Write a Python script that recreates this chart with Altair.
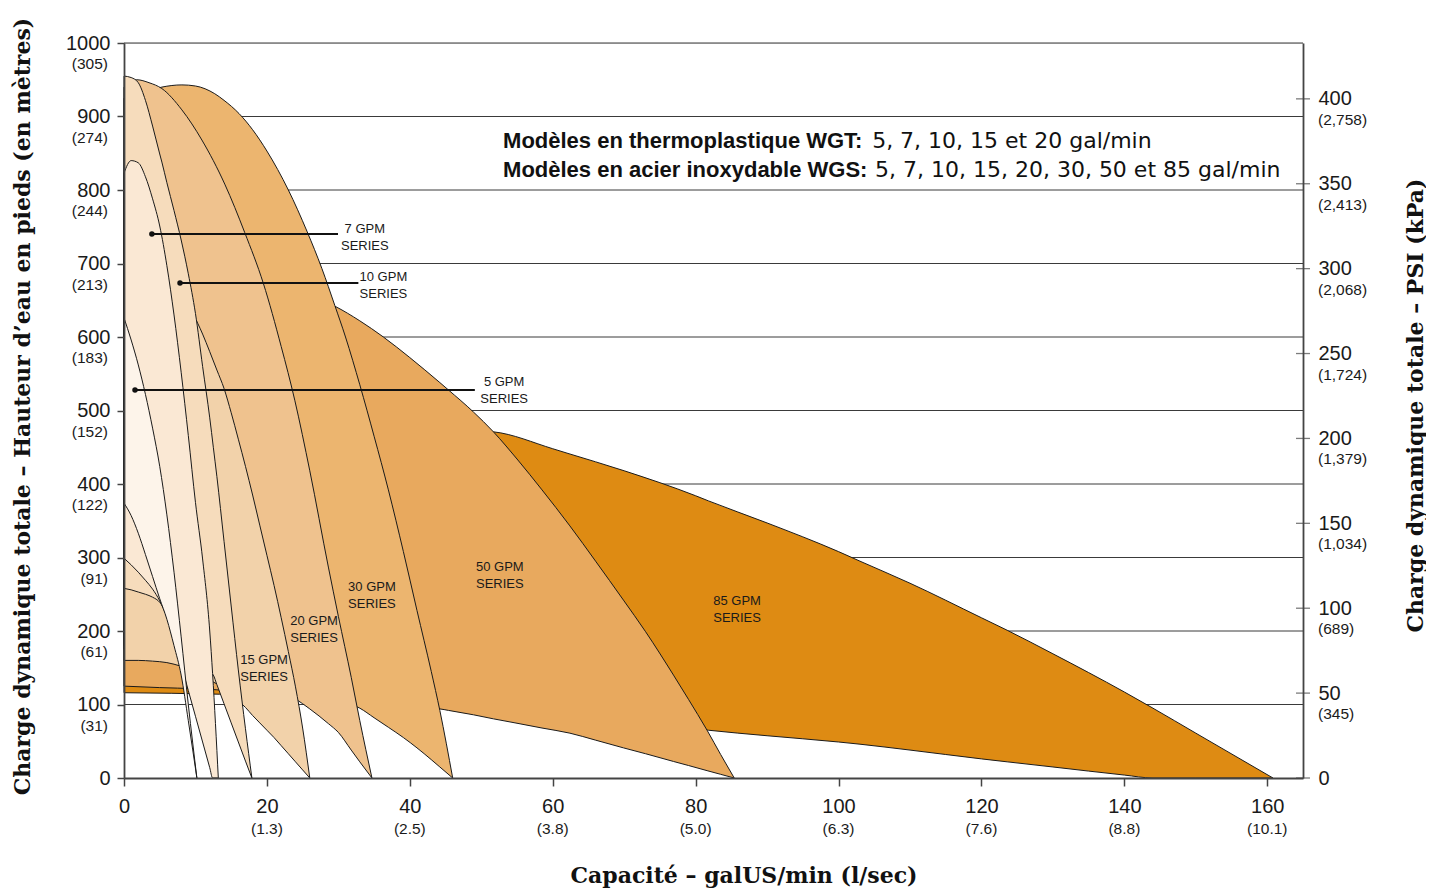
import altair as alt
import pandas as pd

X_MAX = 165
FT_MAX = 1000
PSI_MAX = 1000 / 2.31

# ---------------- series (flow gpm, upper head ft, lower head ft) ----------------
s85_x = [0, 13.4, 20, 30, 40, 44, 51.7, 60, 62, 70, 80, 81.8, 90, 100, 103, 110, 120, 123.6, 130, 140, 144, 150, 160.8]
s85_hi = [480, 479, 478, 477, 476, 475, 471, 448, 442, 418, 384, 377, 347, 308, 295, 265, 218, 201, 169, 117, 95, 61, 0]
s85_lo = [116, 114, 112, 106, 100, 98, 91.5, 85, 83, 75.5, 67, 65, 57.5, 49, 46, 38, 26, 22, 15, 4, 0, 0, 0]

s50_x = [0, 5, 10, 13, 15, 20, 25, 29.5, 33, 36.3, 40, 44.2, 45.4, 48.9, 51.7, 55, 58.5, 62.4, 66, 69.9, 73, 76.9, 79, 81.6, 83.5, 85.4]
s50_hi = [800, 775, 745, 725, 712, 685, 660, 642, 622, 600, 572, 538, 528, 498, 471, 434, 392, 343, 295, 242, 199, 140, 107, 65, 32, 0]
s50_lo = [125, 123, 121.5, 120, 118, 113, 108, 104, 101.5, 99, 96.5, 94, 92, 86, 80.5, 74.5, 68, 61, 51.5, 41, 33, 22.5, 17, 10, 5, 0]

s30_x = [0, 3, 5.3, 8.1, 10, 12.7, 14, 16.1, 18, 20, 23, 25.6, 27.7, 29.5, 31, 33, 35, 37, 39.1, 41, 43, 44.2, 46]
s30_hi = [925, 934, 940, 943, 941.5, 931, 922, 904, 882, 853, 800, 744, 693, 643, 600, 535, 465, 392, 308, 228, 145, 92, 0]
s30_lo = [180, 177, 175, 172, 170, 163, 160, 154, 148, 140, 131, 124, 117, 110, 103, 95, 82, 69, 55, 41, 25, 15, 0]

s20_x = [0, 1.8, 3.5, 5.3, 8.1, 10.9, 14.1, 16.9, 19.5, 22, 23.9, 26, 28.6, 30, 31.8, 33, 34.7]
s20_hi = [940, 950, 946, 938, 909, 868, 808, 742, 673, 587, 514, 418, 287, 220, 137, 78, 0]
s20_lo = [175, 172, 170, 167, 163, 157, 148, 140, 128, 117, 108, 94, 74, 62, 38, 22, 0]

s15_x = [0, 2, 4, 6, 8, 9.7, 11, 12, 13, 14, 15, 16, 17, 18, 19, 20, 21, 22, 23, 24, 25, 26]
s15_hi = [790, 770, 745, 715, 675, 632, 604, 580, 555, 530, 497, 461, 424, 385, 344, 303, 262, 218, 172, 124, 68, 0]
s15_lo = [160, 160, 159, 157, 152, 146, 139, 133, 128, 121, 113, 105, 96, 85, 75, 65, 55, 44, 33, 22, 11, 0]

s10_x = [0, 1, 2, 3, 4, 5, 5.3, 6, 7, 8, 9, 10, 11, 12, 12.5, 13, 14, 15, 16, 17, 17.9]
s10_hi = [955, 953, 946, 922, 887, 849, 838, 810, 772, 732, 686, 632, 560, 490, 450, 410, 322, 234, 147, 67, 0]
s10_lo = [258, 256, 253, 250, 246, 239, 235, 221, 200, 185, 170, 161, 153, 144, 140, 127, 101, 75, 49, 23, 0]

s7_x = [0, 1, 2, 3, 4, 5, 6, 7, 8, 9, 10, 11, 12, 12.4, 13.2]
s7_hi = [823, 840, 837, 818, 788, 751, 697, 630, 552, 466, 375, 298, 200, 142, 0]
s7_lo = [299, 290, 280, 269, 257, 241, 219, 193, 155, 119, 84, 49, 14, 0, 0]

s5_x = [0, 1, 2, 3, 4, 5, 6, 7, 8, 9, 10.2]
s5_hi = [626, 596, 562, 522, 476, 424, 358, 280, 192, 100, 0]
s5_lo = [374, 357, 333, 304, 274, 244, 216, 180, 140, 78, 0]

series = [
    ("85 GPM", "#DE8B13", s85_x, s85_hi, s85_lo),
    ("50 GPM", "#E8A95E", s50_x, s50_hi, s50_lo),
    ("30 GPM", "#ECB56F", s30_x, s30_hi, s30_lo),
    ("20 GPM", "#EFC28E", s20_x, s20_hi, s20_lo),
    ("15 GPM", "#F2D2AA", s15_x, s15_hi, s15_lo),
    ("10 GPM", "#F6DCBC", s10_x, s10_hi, s10_lo),
    ("7 GPM", "#FAE8D4", s7_x, s7_hi, s7_lo),
    ("5 GPM", "#FDF4EA", s5_x, s5_hi, s5_lo),
]

# ---------------- series labels ----------------
lab_top = ["7 GPM", "10 GPM", "5 GPM", "15 GPM", "20 GPM", "30 GPM", "50 GPM", "85 GPM"]
lab_x = [33.7, 36.3, 53.2, 19.6, 26.6, 34.7, 52.6, 85.8]
lab_y = [747, 681.6, 538.8, 160.5, 213.6, 259.9, 287, 240.8]
lab_gap = 23

# pointer lines for the small series
ptr_x0 = [3.9, 7.84, 1.54]
ptr_x1 = [29.95, 32.8, 49.1]
ptr_y = [740, 673.5, 528]

# header
hdr_bold = ["Modèles en thermoplastique WGT:", "Modèles en acier inoxydable WGS:"]
hdr_reg = ["5, 7, 10, 15 et 20 gal/min", "5, 7, 10, 15, 20, 30, 50 et 85 gal/min"]
hdr_x_bold = [53.05, 53.05]
hdr_x_reg = [104.7, 105.1]
hdr_y = [857, 818]

# axes
x_ticks = [0, 20, 40, 60, 80, 100, 120, 140, 160]
x_sub = ["(1.3)", "(2.5)", "(3.8)", "(5.0)", "(6.3)", "(7.6)", "(8.8)", "(10.1)"]
ft_ticks = [0, 100, 200, 300, 400, 500, 600, 700, 800, 900, 1000]
ft_sub = ["(31)", "(61)", "(91)", "(122)", "(152)", "(183)", "(213)", "(244)", "(274)", "(305)"]
psi_ticks = [0, 50, 100, 150, 200, 250, 300, 350, 400]
psi_sub = ["(345)", "(689)", "(1,034)", "(1,379)", "(1,724)", "(2,068)", "(2,413)", "(2,758)"]

TXT = "#1a1a1a"
AX = "#444444"
LABEL_FONT = "Liberation Sans"
TITLE_FONT = "DejaVu Serif"

xscale = alt.Scale(domain=[0, X_MAX], nice=False, zero=True)
ftscale = alt.Scale(domain=[0, FT_MAX], nice=False, zero=True)
psiscale = alt.Scale(domain=[0, PSI_MAX], nice=False, zero=True)

x_axis = alt.Axis(
    values=x_ticks, title="Capacité – galUS/min (l/sec)", format="d",
    titleFont=TITLE_FONT, titleFontWeight="bold", titleFontSize=22, titleColor="#111111",
    titleX=619.5, titleY=104, titleAlign="center", titleBaseline="alphabetic",
    labelFont=LABEL_FONT, labelFontSize=20, labelColor=TXT, labelBaseline="middle",
    labelPadding=20, labelFlush=False, labelOverlap=False,
    tickSize=8, tickColor=AX, tickWidth=1.5, domainColor=AX, domainWidth=1.8,
    grid=False, zindex=1,
)
y_axis = alt.Axis(
    values=ft_ticks, title="Charge dynamique totale – Hauteur d’eau en pieds (en mètres)", format="d",
    titleFont=TITLE_FONT, titleFontWeight="bold", titleFontSize=22, titleColor="#111111",
    titleAngle=270, titleX=-102, titleY=363, titleAlign="center", titleBaseline="middle",
    labelFont=LABEL_FONT, labelFontSize=20, labelColor=TXT, labelPadding=7,
    labelFlush=False, labelOverlap=False,
    tickSize=7, tickColor=AX, tickWidth=1.5, domainColor=AX, domainWidth=1.8,
    grid=False, zindex=1,
)
psi_axis = alt.Axis(
    values=psi_ticks, orient="right", title="Charge dynamique totale – PSI (kPa)", format="d",
    titleFont=TITLE_FONT, titleFontWeight="bold", titleFontSize=22, titleColor="#111111",
    titleAngle=270, titleX=112, titleY=362, titleAlign="center", titleBaseline="middle",
    labelFont=LABEL_FONT, labelFontSize=20, labelColor=TXT, labelPadding=15,
    labelFlush=False, labelOverlap=False, labelAlign="left",
    ticks=False, domainColor=AX, domainWidth=1.8, grid=False, zindex=1,
)


def X(field):
    return alt.X(field, type="quantitative", scale=xscale, axis=x_axis)


def Y(field):
    return alt.Y(field, type="quantitative", scale=ftscale, axis=y_axis)


def P(field):
    return alt.Y(field, type="quantitative", scale=psiscale, axis=psi_axis)


layers = []

# gridlines (behind the regions)
grid_df = pd.DataFrame({"y": ft_ticks[1:], "x0": [0] * 10, "x1": [X_MAX] * 10})
layers.append(
    alt.Chart(grid_df).mark_rule(color="#3a3a3a", strokeWidth=1).encode(
        x=X("x0"), x2="x1", y=Y("y")
    )
)

# regions, largest first
for name, col, xs, hi, lo in series:
    df = pd.DataFrame({"x": xs, "hi": hi, "lo": lo})
    layers.append(
        alt.Chart(df).mark_area(
            fill=col, fillOpacity=1, stroke="#1a1a1a", strokeWidth=1, interpolate="monotone"
        ).encode(x=X("x"), y=Y("hi"), y2="lo")
    )

# pointer lines and dots
ptr_df = pd.DataFrame({"x0": ptr_x0, "x1": ptr_x1, "y": ptr_y})
layers.append(
    alt.Chart(ptr_df).mark_rule(color="#111111", strokeWidth=2).encode(x=X("x0"), x2="x1", y=Y("y"))
)
layers.append(
    alt.Chart(ptr_df).mark_circle(size=30, color="#111111", opacity=1).encode(x=X("x0"), y=Y("y"))
)

# series labels (two lines each)
lab_rows = []
for t, x, y in zip(lab_top, lab_x, lab_y):
    lab_rows.append({"t": t, "x": x, "y": y})
    lab_rows.append({"t": "SERIES", "x": x, "y": y - lab_gap})
lab_df = pd.DataFrame(lab_rows)
layers.append(
    alt.Chart(lab_df).mark_text(
        font="Liberation Sans Narrow, Liberation Sans", fontSize=13, color=TXT,
        align="center", baseline="middle",
    ).encode(x=X("x"), y=Y("y"), text="t:N")
)

# header
hb_df = pd.DataFrame({"t": hdr_bold, "x": hdr_x_bold, "y": hdr_y})
hr_df = pd.DataFrame({"t": hdr_reg, "x": hdr_x_reg, "y": hdr_y})
layers.append(
    alt.Chart(hb_df).mark_text(
        font="Liberation Sans", fontWeight="bold", fontSize=22, color="#111111",
        align="left", baseline="alphabetic",
    ).encode(x=X("x"), y=Y("y"), text="t:N")
)
layers.append(
    alt.Chart(hr_df).mark_text(
        font="DejaVu Sans", fontSize=22, color="#111111",
        align="left", baseline="alphabetic",
    ).encode(x=X("x"), y=Y("y"), text="t:N")
)

# metric sub-labels on left and bottom axes
lsub_df = pd.DataFrame({"t": ft_sub, "y": ft_ticks[1:], "x": [0] * 10})
layers.append(
    alt.Chart(lsub_df).mark_text(
        font=LABEL_FONT, fontSize=15.5, color=TXT, align="right", baseline="middle", dx=-16, dy=21,
    ).encode(x=X("x"), y=Y("y"), text="t:N")
)
bsub_df = pd.DataFrame({"t": x_sub, "x": x_ticks[1:], "y": [0] * 8})
layers.append(
    alt.Chart(bsub_df).mark_text(
        font=LABEL_FONT, fontSize=15.5, color=TXT, align="center", baseline="middle", dy=51,
    ).encode(x=X("x"), y=Y("y"), text="t:N")
)

ft_layer = alt.layer(*layers)

# right PSI axis
psi_df = pd.DataFrame({"psi": psi_ticks, "x": [X_MAX] * len(psi_ticks)})
psi_tick = alt.Chart(psi_df).mark_tick(
    orient="horizontal", size=14, thickness=1.3, color=AX
).encode(x=X("x"), y=P("psi"))
rsub_df = pd.DataFrame({"t": psi_sub, "psi": psi_ticks[1:], "x": [X_MAX] * 8})
psi_text = alt.Chart(rsub_df).mark_text(
    font=LABEL_FONT, fontSize=15.5, color=TXT, align="left", baseline="middle", dx=15, dy=21,
).encode(x=X("x"), y=P("psi"), text="t:N")
psi_layer = alt.layer(psi_tick, psi_text)

chart = (
    alt.layer(ft_layer, psi_layer)
    .resolve_scale(y="independent")
    .properties(
        width=1179, height=735,
        padding={"left": 116, "top": 35, "right": 123, "bottom": 110},
        autosize=alt.AutoSizeParams(type="none"),
    )
    .configure_view(stroke=None)
    .configure(background="white")
)

chart.save("out.html", embed_options={"renderer": "svg", "actions": False})
